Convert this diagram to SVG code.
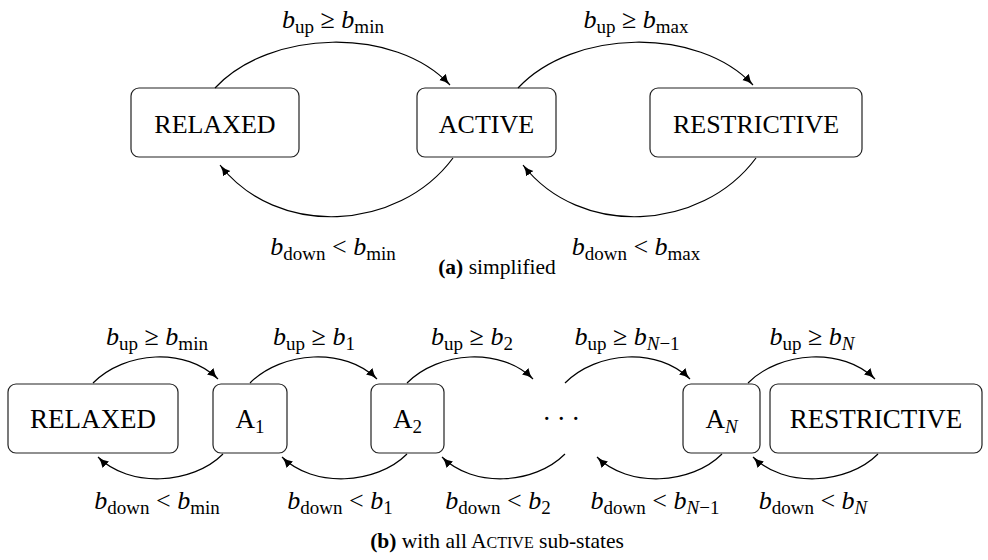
<svg xmlns="http://www.w3.org/2000/svg" width="988" height="560" viewBox="0 0 988 560">
<style>
.box{fill:#fff;stroke:#222;stroke-width:1.2}
.nt{font-family:"Liberation Serif",serif;font-size:26px;fill:#000;text-anchor:middle}
.nb{font-family:"Liberation Serif",serif;font-size:27px;fill:#000;text-anchor:middle}
.sub{font-size:19px}
.m{font-family:"Liberation Serif",serif;font-size:26px;fill:#000;text-anchor:middle}
.i{font-style:italic}
.edge{fill:none;stroke:#000;stroke-width:1.2;marker-end:url(#ah)}
.cap{font-family:"Liberation Serif",serif;font-size:21.5px;fill:#000;text-anchor:middle}
.bold{font-weight:bold}
</style>
<defs>
<marker id="ah" markerUnits="userSpaceOnUse" markerWidth="13" markerHeight="11" refX="11" refY="4.5" orient="auto" viewBox="0 0 13 11">
<path d="M0,0 Q4.5,3.4 11,4.5 Q4.5,5.6 0,9 Z" fill="#000"/>
</marker>
</defs>

<g id="top-relaxed"><rect class="box" x="131" y="88" width="168" height="69" rx="8"/><text class="nt" x="215" y="133">RELAXED</text></g>
<g id="top-active"><rect class="box" x="417" y="88" width="139" height="69" rx="8"/><text class="nt" x="486.5" y="133">ACTIVE</text></g>
<g id="top-restrictive"><rect class="box" x="650" y="88" width="212" height="69" rx="8"/><text class="nt" x="756" y="133">RESTRICTIVE</text></g>

<g id="b-relaxed"><rect class="box" x="8" y="384" width="170" height="69" rx="8"/><text class="nb" x="93" y="428">RELAXED</text></g>
<g id="b-a1"><rect class="box" x="213" y="384" width="74" height="69" rx="8"/><text class="nb" x="250" y="428">A<tspan class="sub" dy="5">1</tspan></text></g>
<g id="b-a2"><rect class="box" x="371" y="384" width="73" height="69" rx="8"/><text class="nb" x="407.5" y="428">A<tspan class="sub" dy="5">2</tspan></text></g>
<g id="b-dots"><text class="nb" x="564" y="428" letter-spacing="5.5">···</text></g>
<g id="b-an"><rect class="box" x="683" y="384" width="77" height="69" rx="8"/><text class="nb" x="721.5" y="428">A<tspan class="sub i" dy="5">N</tspan></text></g>
<g id="b-restrictive"><rect class="box" x="770" y="384" width="212" height="69" rx="8"/><text class="nb" x="876" y="428">RESTRICTIVE</text></g>

<g id="connectors">
<path class="edge" d="M215,88 C270,29 395,26 450,85"/>
<path class="edge" d="M518,88 C573,29 698,26 753,85"/>
<path class="edge" d="M453,158 C398,232 277,238 220,165"/>
<path class="edge" d="M756,158 C701,232 580,238 523,165"/>
<path class="edge" d="M93,383 C125,351 186,347 218,379"/>
<path class="edge" d="M250,383 C282,351 345,347 377,379"/>
<path class="edge" d="M407,383 C439,351 501,347 533,379"/>
<path class="edge" d="M565,383 C597,351 658,347 690,379"/>
<path class="edge" d="M748,383 C780,351 843,347 875,379"/>
<path class="edge" d="M223,454 C192,485 129,488 98,457"/>
<path class="edge" d="M407,454 C376,485 313,488 282,457"/>
<path class="edge" d="M565,454 C534,485 473,488 442,457"/>
<path class="edge" d="M722,454 C691,485 628,488 597,457"/>
<path class="edge" d="M878,454 C847,485 784,488 753,457"/>
</g>

<g id="labels">
<text class="m" x="333" y="28"><tspan class="i">b</tspan><tspan class="sub" dy="5">up</tspan><tspan dy="-5"> ≥ </tspan><tspan class="i">b</tspan><tspan class="sub" dy="5">min</tspan></text>
<text class="m" x="636" y="28"><tspan class="i">b</tspan><tspan class="sub" dy="5">up</tspan><tspan dy="-5"> ≥ </tspan><tspan class="i">b</tspan><tspan class="sub" dy="5">max</tspan></text>
<text class="m" x="333" y="255"><tspan class="i">b</tspan><tspan class="sub" dy="5">down</tspan><tspan dy="-5"> &lt; </tspan><tspan class="i">b</tspan><tspan class="sub" dy="5">min</tspan></text>
<text class="m" x="636" y="255"><tspan class="i">b</tspan><tspan class="sub" dy="5">down</tspan><tspan dy="-5"> &lt; </tspan><tspan class="i">b</tspan><tspan class="sub" dy="5">max</tspan></text>

<text class="m" x="157" y="345"><tspan class="i">b</tspan><tspan class="sub" dy="5">up</tspan><tspan dy="-5"> ≥ </tspan><tspan class="i">b</tspan><tspan class="sub" dy="5">min</tspan></text>
<text class="m" x="314" y="345"><tspan class="i">b</tspan><tspan class="sub" dy="5">up</tspan><tspan dy="-5"> ≥ </tspan><tspan class="i">b</tspan><tspan class="sub" dy="5">1</tspan></text>
<text class="m" x="472" y="345"><tspan class="i">b</tspan><tspan class="sub" dy="5">up</tspan><tspan dy="-5"> ≥ </tspan><tspan class="i">b</tspan><tspan class="sub" dy="5">2</tspan></text>
<text class="m" x="627" y="345"><tspan class="i">b</tspan><tspan class="sub" dy="5">up</tspan><tspan dy="-5"> ≥ </tspan><tspan class="i">b</tspan><tspan class="sub i" dy="5">N</tspan><tspan class="sub">−1</tspan></text>
<text class="m" x="812" y="345"><tspan class="i">b</tspan><tspan class="sub" dy="5">up</tspan><tspan dy="-5"> ≥ </tspan><tspan class="i">b</tspan><tspan class="sub i" dy="5">N</tspan></text>

<text class="m" x="157" y="509"><tspan class="i">b</tspan><tspan class="sub" dy="5">down</tspan><tspan dy="-5"> &lt; </tspan><tspan class="i">b</tspan><tspan class="sub" dy="5">min</tspan></text>
<text class="m" x="340" y="509"><tspan class="i">b</tspan><tspan class="sub" dy="5">down</tspan><tspan dy="-5"> &lt; </tspan><tspan class="i">b</tspan><tspan class="sub" dy="5">1</tspan></text>
<text class="m" x="498" y="509"><tspan class="i">b</tspan><tspan class="sub" dy="5">down</tspan><tspan dy="-5"> &lt; </tspan><tspan class="i">b</tspan><tspan class="sub" dy="5">2</tspan></text>
<text class="m" x="655" y="509"><tspan class="i">b</tspan><tspan class="sub" dy="5">down</tspan><tspan dy="-5"> &lt; </tspan><tspan class="i">b</tspan><tspan class="sub i" dy="5">N</tspan><tspan class="sub">−1</tspan></text>
<text class="m" x="813" y="509"><tspan class="i">b</tspan><tspan class="sub" dy="5">down</tspan><tspan dy="-5"> &lt; </tspan><tspan class="i">b</tspan><tspan class="sub i" dy="5">N</tspan></text>
</g>

<g id="captions">
<text class="cap" x="497" y="274"><tspan class="bold">(a)</tspan> simplified</text>
<text class="cap" x="497" y="548"><tspan class="bold">(b)</tspan> with all A<tspan font-size="16">CTIVE</tspan> sub-states</text>
</g>
</svg>
